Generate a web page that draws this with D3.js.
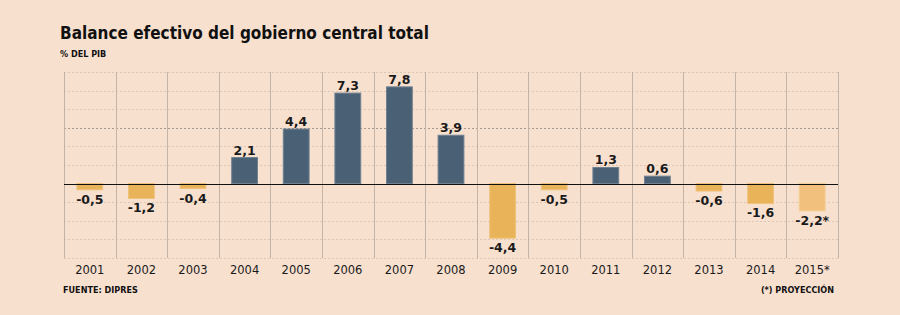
<!DOCTYPE html>
<html>
<head>
<meta charset="utf-8">
<script src="https://cdn.jsdelivr.net/npm/d3@7"></script>
<style>
  body { margin: 0; background: #f8e0cf; }
  svg { display: block; }
</style>
</head>
<body>
<div id="chart"></div>
<script>
var years = ['2001', '2002', '2003', '2004', '2005', '2006', '2007', '2008',
             '2009', '2010', '2011', '2012', '2013', '2014', '2015*'],
    balance = [-0.5, -1.2, -0.4, 2.1, 4.4, 7.3, 7.8, 3.9,
               -4.4, -0.5, 1.3, 0.6, -0.6, -1.6, -2.2],
    projected = ['2015*'],
    gridTicks = [-6, -4.5, -3, -1.5, 1.5, 3, 4.5, 6, 7.5, 9];

var width = 900,
    height = 315,
    margin = {top: 72, left: 64, right: 62, bottom: 57};

var svg = d3.select('#chart').append('svg')
    .attr('width', width)
    .attr('height', height);

svg.append('rect')
    .attr('width', width).attr('height', height)
    .attr('fill', '#f8e0cf');

var x = d3.scaleBand()
    .domain(years)
    .range([margin.left, width - margin.right])
    .paddingInner(0.5)
    .paddingOuter(0.25);

var y = d3.scaleLinear()
    .domain([-6, 9])
    .range([height - margin.bottom, margin.top]);

function fmt(v) {
    return d3.format('.1f')(v).replace('.', ',').replace('\u2212', '-');
}

// horizontal dotted grid
svg.append('g').selectAll('line')
    .data(gridTicks)
    .enter().append('line')
    .attr('x1', margin.left).attr('x2', width - margin.right)
    .attr('y1', function (d) { return Math.round(y(d)) + 0.5; })
    .attr('y2', function (d) { return Math.round(y(d)) + 0.5; })
    .attr('stroke', function (d) { return d === 4.5 ? '#a49890' : '#dcc6b6'; })
    .attr('stroke-dasharray', '2,2');

// vertical separators between years
var step = x.step(),
    edges = d3.range(years.length + 1).map(function (i) {
        return margin.left + i * step;
    });
svg.append('g').selectAll('line')
    .data(edges)
    .enter().append('line')
    .attr('x1', function (d) { return Math.round(d) + 0.5; })
    .attr('x2', function (d) { return Math.round(d) + 0.5; })
    .attr('y1', y(9)).attr('y2', y(-6))
    .attr('stroke', '#c4b4a8');

// bars
svg.append('g').selectAll('rect')
    .data(balance)
    .enter().append('rect')
    .attr('x', function (d, i) { return x(years[i]); })
    .attr('width', x.bandwidth())
    .attr('y', function (d) { return y(Math.max(0, d)); })
    .attr('height', function (d) { return Math.abs(y(d) - y(0)); })
    .attr('fill', function (d, i) {
        if (projected.indexOf(years[i]) >= 0) { return '#f0c07c'; }
        return d >= 0 ? '#4a6175' : '#e9b359';
    })
    .attr('stroke', function (d, i) {
        if (projected.indexOf(years[i]) >= 0) { return '#f3cc94'; }
        return d >= 0 ? '#6f8090' : '#efc27c';
    })
    .attr('stroke-width', 1);

// zero line
svg.append('line')
    .attr('x1', margin.left).attr('x2', width - margin.right)
    .attr('y1', Math.round(y(0)) + 0.5).attr('y2', Math.round(y(0)) + 0.5)
    .attr('stroke', '#111');

// value labels
svg.append('g').selectAll('text')
    .data(balance)
    .enter().append('text')
    .attr('x', function (d, i) { return x(years[i]) + x.bandwidth() / 2; })
    .attr('y', function (d) { return d >= 0 ? y(d) - 3 : y(d) + 14; })
    .attr('text-anchor', 'middle')
    .attr('font-family', 'DejaVu Sans, Verdana, sans-serif')
    .attr('font-weight', 'bold')
    .attr('font-size', 12.5)
    .attr('fill', '#1a1a1a')
    .text(function (d, i) {
        return fmt(d) + (projected.indexOf(years[i]) >= 0 ? '*' : '');
    });

// year axis
var xAxis = svg.append('g')
    .attr('transform', 'translate(0,' + (y(-6) + 16) + ')')
    .call(d3.axisBottom(x).tickSize(0).tickPadding(0));
xAxis.select('.domain').remove();
xAxis.selectAll('text')
    .attr('font-family', 'DejaVu Sans, Verdana, sans-serif')
    .attr('font-size', 11.5)
    .attr('fill', '#1a1a1a')
    .attr('dy', 0);

// titles
svg.append('text')
    .attr('x', 60).attr('y', 39)
    .attr('font-family', 'DejaVu Sans Condensed, DejaVu Sans, sans-serif')
    .attr('font-weight', 'bold')
    .attr('font-size', 17)
    .attr('fill', '#111')
    .text('Balance efectivo del gobierno central total');

svg.append('text')
    .attr('x', 60).attr('y', 57)
    .attr('font-family', 'DejaVu Sans Condensed, DejaVu Sans, sans-serif')
    .attr('font-weight', 'bold')
    .attr('font-size', 9)
    .attr('fill', '#111')
    .text('% DEL PIB');

svg.append('text')
    .attr('x', 63).attr('y', 292.5)
    .attr('font-family', 'Liberation Sans Narrow, DejaVu Sans Condensed, sans-serif')
    .attr('font-weight', 'bold')
    .attr('font-size', 9)
    .attr('fill', '#111')
    .text('FUENTE: DIPRES');

svg.append('text')
    .attr('x', 834).attr('y', 292.5)
    .attr('text-anchor', 'end')
    .attr('font-family', 'Liberation Sans Narrow, DejaVu Sans Condensed, sans-serif')
    .attr('font-weight', 'bold')
    .attr('font-size', 9)
    .attr('fill', '#111')
    .text('(*) PROYECCIÓN');
</script>
</body>
</html>
